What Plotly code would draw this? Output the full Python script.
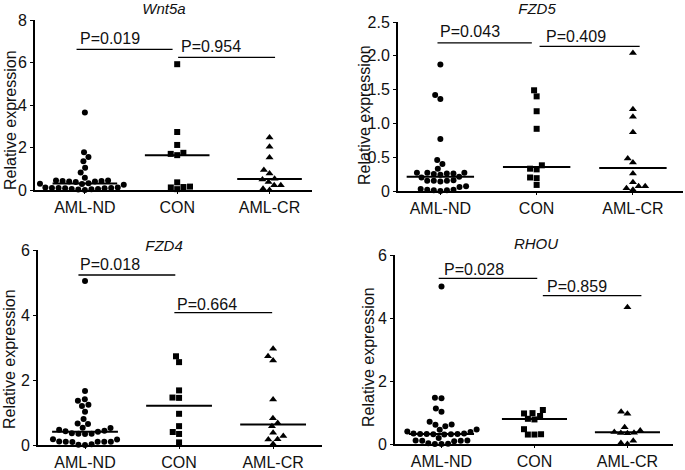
import numpy as np
import plotly.graph_objects as go

# ---- data ----
genes = ["Wnt5a", "FZD5", "FZD4", "RHOU"]
groups = ["AML-ND", "CON", "AML-CR"]

wnt5a_nd = [3.65, 1.78, 1.55, 1.35, 1.05, 0.82, 0.58, 0.45, 0.42, 0.40, 0.42, 0.38, 0.40, 0.45,
            0.30, 0.28, 0.25, 0.32, 0.12, 0.10, 0.08, 0.10, 0.12, 0.10, 0.08, 0.05, 0.02, 0.0, 0.03, 0.05]
wnt5a_con = [5.92, 2.73, 2.12, 1.75, 1.70, 1.64, 0.36, 0.16, 0.14, 0.12, 0.04]
wnt5a_cr = [2.47, 2.03, 1.53, 0.94, 0.78, 0.53, 0.50, 0.38, 0.22, 0.22, 0.06, 0.0]

fzd5_nd = [1.87, 1.42, 1.36, 0.77, 0.46, 0.40, 0.33, 0.27, 0.26, 0.27, 0.26, 0.27, 0.24, 0.25, 0.21,
           0.20, 0.15, 0.15, 0.15, 0.16, 0.14, 0.07, 0.06, 0.03, 0.02, 0.01, 0.01, 0.0, 0.02]
fzd5_con = [1.49, 1.40, 1.18, 0.92, 0.38, 0.33, 0.32, 0.20, 0.19, 0.09]
fzd5_cr = [2.04, 1.21, 1.10, 0.87, 0.48, 0.42, 0.26, 0.13, 0.07, 0.07, 0.04, 0.02]

fzd4_nd = [5.05, 1.66, 1.41, 1.36, 1.24, 1.20, 1.02, 0.80, 0.66, 0.65, 0.53, 0.52, 0.47, 0.44, 0.42, 0.41,
           0.36, 0.35, 0.35, 0.34, 0.18, 0.17, 0.11, 0.10, 0.10, 0.09, 0.10, 0.10, 0.02, 0.01, 0.0]
fzd4_con = [2.73, 2.55, 1.68, 1.46, 1.45, 0.96, 0.58, 0.40, 0.34, 0.08]
fzd4_cr = [2.96, 2.73, 2.60, 1.40, 0.82, 0.68, 0.58, 0.38, 0.28, 0.18, 0.17, 0.03]

rhou_nd = [5.0, 1.47, 1.45, 1.13, 1.02, 0.71, 0.62, 0.61, 0.56, 0.46, 0.45, 0.40, 0.38, 0.33, 0.32, 0.32,
           0.31, 0.33, 0.32, 0.31, 0.30, 0.19, 0.11, 0.10, 0.10, 0.09, 0.11, 0.02, 0.01, 0.0, 0.0]
rhou_con = [1.08, 0.98, 0.97, 0.89, 0.80, 0.78, 0.47, 0.31, 0.30, 0.30]
rhou_cr = [4.34, 1.02, 0.96, 0.53, 0.43, 0.38, 0.36, 0.35, 0.34, 0.10, 0.03, 0.0]

p_left = ["P=0.019", "P=0.043", "P=0.018", "P=0.028"]
p_right = ["P=0.954", "P=0.409", "P=0.664", "P=0.859"]

data = [
    [wnt5a_nd, wnt5a_con, wnt5a_cr],
    [fzd5_nd, fzd5_con, fzd5_cr],
    [fzd4_nd, fzd4_con, fzd4_cr],
    [rhou_nd, rhou_con, rhou_cr],
]

W, H = 685, 470
FONT = "Arial, Liberation Sans, sans-serif"
INK = "#111111"
symbols = ["circle", "square", "triangle-up"]
msize = [6, 6, 7]

# panel layout in pixels: x-axis span, y pixel of 0 and top, ranges, brackets,
# centre of the gene name, centre of the y title
panels = [
    dict(x0=35, x1=312, yb=190, yt=20, xr=[-0.54, 2.46], yr=[0, 8],
         tv=[0, 2, 4, 6, 8], tt=["0", "2", "4", "6", "8"],
         b1=(-0.09, 0.95, 6.62), b2=(1.01, 2.06, 6.24),
         t1=(78, 38), t2=(179, 47), title=(164, 10), ytit=(11, 120)),
    dict(x0=398, x1=683, yb=191, yt=22, xr=[-0.44, 2.52], yr=[0, 2.5],
         tv=[0, 0.5, 1, 1.5, 2, 2.5], tt=["0", "0.5", "1.0", "1.5", "2.0", "2.5"],
         b1=(-0.03, 0.95, 2.19), b2=(1.03, 2.07, 2.14),
         t1=(438, 32), t2=(544, 36), title=(537, 10), ytit=(365, 115)),
    dict(x0=38, x1=322, yb=445, yt=250, xr=[-0.5, 2.52], yr=[0, 6],
         tv=[0, 2, 4, 6], tt=["0", "2", "4", "6"],
         b1=(-0.07, 0.96, 5.23), b2=(0.95, 1.99, 4.07),
         t1=(78, 264), t2=(175, 304), title=(164, 247), ytit=(9, 359)),
    dict(x0=395, x1=673, yb=444, yt=255, xr=[-0.5, 2.49], yr=[0, 6],
         tv=[0, 2, 4, 6], tt=["0", "2", "4", "6"],
         b1=(-0.03, 1.03, 5.26), b2=(1.09, 2.15, 4.71),
         t1=(442, 269), t2=(545, 286), title=(536, 245), ytit=(368, 357)),
]


def swarm(values, px_y, d):
    # simple beeswarm, returns x offsets in pixels
    vals = np.asarray(values, dtype=float)
    order = np.argsort(vals)
    placed = []
    xs = np.zeros(len(vals))
    for i in order:
        y = vals[i] * px_y
        forb = []
        for xp, yp in placed:
            dy = abs(y - yp)
            if dy < d:
                w = np.sqrt(d * d - dy * dy)
                forb.append((xp - w, xp + w))
        cands = [0.0] + [a for a, b in forb] + [b for a, b in forb]
        cands.sort(key=lambda c: (abs(c), c))
        for c in cands:
            if all(not (a + 1e-6 < c < b - 1e-6) for a, b in forb):
                xs[i] = c
                break
        placed.append((xs[i], y))
    return xs


fig = go.Figure()
layout = dict(width=W, height=H, autosize=False, margin=dict(l=0, r=0, t=0, b=0, pad=0),
              plot_bgcolor="rgba(0,0,0,0)", paper_bgcolor="white", showlegend=False,
              font=dict(family=FONT, color=INK, size=16))
annotations = []
shapes = []

for k, p in enumerate(panels):
    n = "" if k == 0 else str(k + 1)
    xa, ya = "x" + n, "y" + n
    px_x = (p["x1"] - p["x0"]) / (p["xr"][1] - p["xr"][0])
    px_y = (p["yb"] - p["yt"]) / (p["yr"][1] - p["yr"][0])

    for g in range(3):
        vals = data[k][g]
        off = swarm(vals, px_y, 6.6) / px_x
        fig.add_trace(go.Scatter(
            x=g + off, y=vals, mode="markers", xaxis=xa, yaxis=ya, cliponaxis=False,
            marker=dict(symbol=symbols[g], size=msize[g], color="black", line=dict(width=0)),
            hoverinfo="y"))
        med = float(np.median(vals))
        fig.add_trace(go.Scatter(
            x=[g - 0.35, g + 0.35], y=[med, med], mode="lines", xaxis=xa, yaxis=ya,
            line=dict(color="black", width=2), hoverinfo="skip", cliponaxis=False))

    layout["xaxis" + n] = dict(
        domain=[p["x0"] / W, p["x1"] / W], range=p["xr"], anchor=ya, automargin=False,
        tickmode="array", tickvals=[0, 1, 2], ticktext=groups,
        showline=True, linecolor="black", linewidth=2, ticks="outside", ticklen=2,
        tickwidth=1, tickcolor="black", showgrid=False, zeroline=False,
        tickfont=dict(size=16, color=INK), fixedrange=True)
    layout["yaxis" + n] = dict(
        domain=[1 - p["yb"] / H, 1 - p["yt"] / H], range=p["yr"], anchor=xa, automargin=False,
        tickmode="array", tickvals=p["tv"], ticktext=p["tt"],
        showline=True, linecolor="black", linewidth=2, ticks="outside", ticklen=3,
        tickwidth=1, tickcolor="black", showgrid=False, zeroline=False,
        tickfont=dict(size=16, color=INK), fixedrange=True)

    for (a, b, h) in (p["b1"], p["b2"]):
        shapes.append(dict(type="line", xref=xa, yref=ya, x0=a, x1=b, y0=h, y1=h,
                           line=dict(color="black", width=1.3)))
    for txt, (tx, ty) in ((p_left[k], p["t1"]), (p_right[k], p["t2"])):
        annotations.append(dict(text=txt, x=tx / W, y=1 - ty / H, xref="paper", yref="paper",
                                xanchor="left", yanchor="middle", showarrow=False,
                                font=dict(size=16, color=INK)))
    annotations.append(dict(text="Relative expression", x=p["ytit"][0] / W, y=1 - p["ytit"][1] / H,
                            xref="paper", yref="paper", xanchor="center", yanchor="middle",
                            textangle=-90, showarrow=False, font=dict(size=16, color=INK)))

# gene names: text trace on a hidden full-page overlay axis measured in pixels
fig.add_trace(go.Scatter(
    x=[p["title"][0] for p in panels], y=[p["title"][1] for p in panels],
    text=["<i>%s</i>" % g for g in genes], mode="text", textposition="middle center",
    textfont=dict(family=FONT, size=15, color=INK), xaxis="x5", yaxis="y5",
    cliponaxis=False, hoverinfo="skip"))
layout["xaxis5"] = dict(domain=[0, 1], range=[0, W], anchor="y5", visible=False,
                        fixedrange=True, automargin=False)
layout["yaxis5"] = dict(domain=[0, 1], range=[H, 0], anchor="x5", visible=False,
                        fixedrange=True, automargin=False)

layout["annotations"] = annotations
layout["shapes"] = shapes
fig.update_layout(**layout)
fig.write_html("out.html", config={"displayModeBar": False},
               post_script="document.body.style.margin='0';"
                           "document.documentElement.style.overflow='hidden';"
                           "document.body.style.overflow='hidden';")
